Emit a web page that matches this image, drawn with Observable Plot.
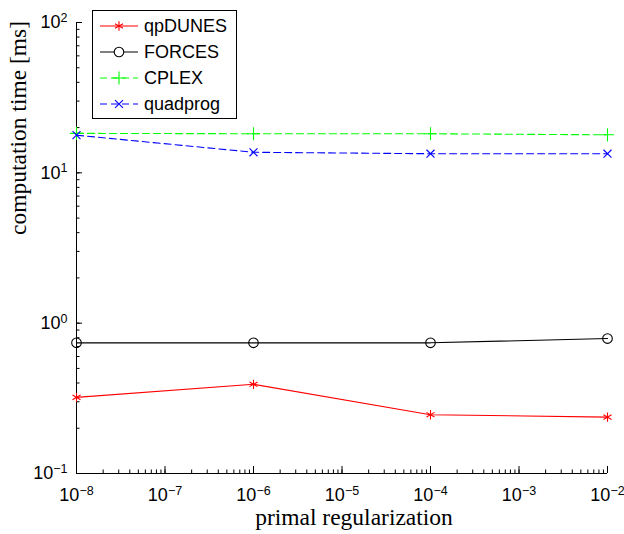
<!DOCTYPE html>
<html>
<head>
<meta charset="utf-8">
<script src="https://cdn.jsdelivr.net/npm/d3@7"></script>
<script src="https://cdn.jsdelivr.net/npm/@observablehq/plot@0.6"></script>
<style>
  html, body { margin: 0; padding: 0; background: #fff; }
  #wrap { position: relative; width: 624px; height: 534px; }
  #legend { position: absolute; left: 92px; top: 10px; }
</style>
</head>
<body>
<div id="wrap"></div>
<script>
// ---- data ----
const regularization = [1e-8, 1e-6, 1e-4, 1e-2];
const qpDUNES  = [0.321, 0.392, 0.246, 0.237];
const FORCES   = [0.74, 0.74, 0.74, 0.79];
const CPLEX    = [18.3, 18.2, 18.2, 17.9];
const quadprog = [17.8, 13.7, 13.4, 13.4];

const seriesNames  = ["qpDUNES", "FORCES", "CPLEX", "quadprog"];
const seriesValues = [qpDUNES, FORCES, CPLEX, quadprog];
const seriesColors = ["#ff0000", "#000000", "#00ff00", "#0000ff"];
const seriesSymbols = ["asterisk", "circle", "plus", "times"];
const seriesDash = [null, null, "7,4", "7,4"];
const seriesR = [4.4, 4.8, 4.3, 3.7];

const xTicks = [1e-8, 1e-7, 1e-6, 1e-5, 1e-4, 1e-3, 1e-2];
const xTickLabels = ["10^-8", "10^-7", "10^-6", "10^-5", "10^-4", "10^-3", "10^-2"];
const yTicks = [1e-1, 1e0, 1e1, 1e2];
const yTickLabels = ["10^-1", "10^0", "10^1", "10^2"];

const xLabel = "primal regularization";
const yLabel = "computation time [ms]";

// ---- build ----
const rows = [];
seriesNames.forEach((name, i) => {
  regularization.forEach((x, j) => rows.push({series: name, x, y: seriesValues[i][j]}));
});

const tickFont = "'Liberation Sans', Arial, Helvetica, sans-serif";
const labelFont = "'Liberation Serif', 'Times New Roman', Times, serif";
const noText = () => "";
const lookup = (ticks, labels) => d => {
  const k = ticks.findIndex(t => Math.abs(Math.log10(t) - Math.log10(d)) < 1e-6);
  return k >= 0 ? labels[k] : "";
};

const marks = [];
seriesNames.forEach((name, i) => {
  const d = rows.filter(r => r.series === name);
  marks.push(Plot.line(d, {x: "x", y: "y", stroke: seriesColors[i], strokeWidth: 1.1, strokeDasharray: seriesDash[i]}));
});
seriesNames.forEach((name, i) => {
  const d = rows.filter(r => r.series === name);
  marks.push(Plot.dot(d, {x: "x", y: "y", stroke: seriesColors[i], symbol: seriesSymbols[i], r: seriesR[i], strokeWidth: 1.1, fill: "none"}));
});

const chart = Plot.plot({
  width: 624,
  height: 534,
  marginLeft: 76,
  marginRight: 17,
  marginTop: 22,
  marginBottom: 61,
  style: {fontFamily: tickFont, fontSize: "18px", color: "#000", background: "#fff"},
  x: {type: "log", domain: [1e-8, 1e-2]},
  y: {type: "log", domain: [0.1, 100]},
  marks: [
    // minor ticks (inward)
    Plot.axisX({ticks: 30, tickSize: -3.5, tickFormat: noText, label: null, stroke: "#000"}),
    Plot.axisY({ticks: 30, tickSize: -3.5, tickFormat: noText, label: null, stroke: "#000"}),
    // major ticks (inward)
    Plot.axisX({ticks: xTicks, tickSize: -7, tickFormat: noText, label: null, stroke: "#000"}),
    Plot.axisY({ticks: yTicks, tickSize: -6, tickFormat: noText, label: null, stroke: "#000"}),
    // labels
    Plot.axisX({ticks: xTicks, tickSize: 0, tickPadding: 15, tickFormat: lookup(xTicks, xTickLabels), label: null, fill: "#000"}),
    Plot.axisY({ticks: yTicks, tickSize: 0, tickPadding: 9, tickFormat: lookup(yTicks, yTickLabels), label: null, fill: "#000"}),
    // axis lines
    Plot.ruleY([0.1], {stroke: "#000", strokeWidth: 1}),
    Plot.ruleX([1e-8], {stroke: "#000", strokeWidth: 1}),
    ...marks,
    Plot.text([xLabel], {frameAnchor: "bottom", dx: 12, dy: 51, text: d => d, fontFamily: labelFont, fontSize: 23.5, fill: "#000"}),
    Plot.text([yLabel], {frameAnchor: "left", dx: -58, dy: -13, rotate: -90, text: d => d, fontFamily: labelFont, fontSize: 23.5, fill: "#000"})
  ]
});

// remove empty tick-label texts; render "10^k" labels with real superscripts
chart.querySelectorAll("text").forEach(t => {
  const s = t.textContent;
  if (s === "") { t.remove(); return; }
  const m = /^10\^(-?\d+)$/.exec(s);
  if (!m) return;
  t.textContent = "";
  const base = document.createElementNS("http://www.w3.org/2000/svg", "tspan");
  base.textContent = "10";
  const sup = document.createElementNS("http://www.w3.org/2000/svg", "tspan");
  sup.textContent = m[1].replace("-", "\u2212");
  sup.setAttribute("dy", "-0.5em");
  sup.setAttribute("font-size", "12.5px");
  t.appendChild(base);
  t.appendChild(sup);
});

const wrap = document.getElementById("wrap");
wrap.appendChild(chart);

// ---- legend ----
const NS = "http://www.w3.org/2000/svg";
const lg = document.createElementNS(NS, "svg");
lg.setAttribute("id", "legend");
lg.setAttribute("width", 146);
lg.setAttribute("height", 110);
const box = document.createElementNS(NS, "rect");
box.setAttribute("x", 0.5); box.setAttribute("y", 0.5);
box.setAttribute("width", 144); box.setAttribute("height", 108);
box.setAttribute("fill", "#fff"); box.setAttribute("stroke", "#000");
lg.appendChild(box);
seriesNames.forEach((name, i) => {
  const cy = 16 + i * 26;
  const ln = document.createElementNS(NS, "line");
  ln.setAttribute("x1", 8); ln.setAttribute("x2", 46);
  ln.setAttribute("y1", cy); ln.setAttribute("y2", cy);
  ln.setAttribute("stroke", seriesColors[i]); ln.setAttribute("stroke-width", 1.1);
  if (seriesDash[i]) ln.setAttribute("stroke-dasharray", seriesDash[i]);
  lg.appendChild(ln);
  const sym = {asterisk: d3.symbolAsterisk, circle: d3.symbolCircle, plus: d3.symbolPlus, times: d3.symbolTimes}[seriesSymbols[i]];
  const p = document.createElementNS(NS, "path");
  p.setAttribute("d", d3.symbol(sym, Math.PI * seriesR[i] * seriesR[i])());
  p.setAttribute("transform", `translate(27,${cy})`);
  p.setAttribute("fill", seriesSymbols[i] === "circle" ? "#fff" : "none");
  p.setAttribute("stroke", seriesColors[i]); p.setAttribute("stroke-width", 1.1);
  lg.appendChild(p);
  const tx = document.createElementNS(NS, "text");
  tx.setAttribute("x", 52); tx.setAttribute("y", cy);
  tx.setAttribute("dy", "0.35em");
  tx.setAttribute("font-family", "Liberation Sans, Arial, Helvetica, sans-serif");
  tx.setAttribute("font-size", "18px");
  tx.textContent = name;
  lg.appendChild(tx);
});
wrap.appendChild(lg);
</script>
</body>
</html>
